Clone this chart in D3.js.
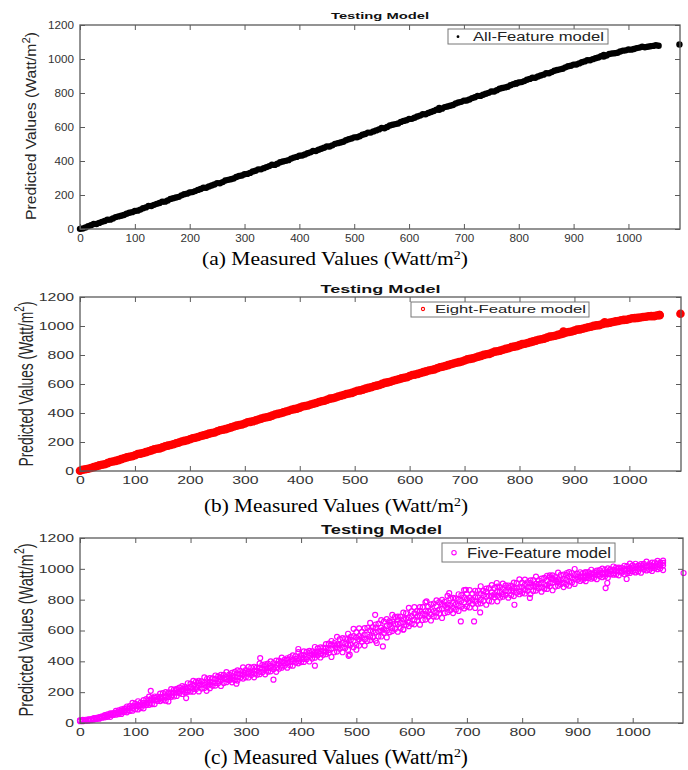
<!DOCTYPE html>
<html><head><meta charset="utf-8">
<script src="https://cdn.jsdelivr.net/npm/d3@7"></script>
<style>body{margin:0;background:#fff}svg{display:block}</style>
</head><body><svg id="chart" width="688" height="770"></svg>
<script>
// ---------------- DATA ----------------
const xTicks = [0,100,200,300,400,500,600,700,800,900,1000];
const yTicks = [0,200,400,600,800,1000,1200];
const titleText = "Testing Model";
const legendNames = ["All-Feature model","Eight-Feature model","Five-Feature model"];
const panelLetters = ["(a)","(b)","(c)"];

const xGrid = [0,10,20,30,40,50,60,70,80,90,100,110,120,130,140,150,160,170,180,190,200,210,220,230,240,250,260,270,280,290,300,310,320,330,340,350,360,370,380,390,400,410,420,430,440,450,460,470,480,490,500,510,520,530,540,550,560,570,580,590,600,610,620,630,640,650,660,670,680,690,700,710,720,730,740,750,760,770,780,790,800,810,820,830,840,850,860,870,880,890,900,910,920,930,940,950,960,970,980,990,1000,1010,1020,1030,1040,1050];
const xGridB = [5,15,25,35,45,55,65,75,85,95,105,115,125,135,145,155,165,175,185,195,205,215,225,235,245,255,265,275,285,295,305,315,325,335,345,355,365,375,385,395,405,415,425,435,445,455,465,475,485,495,505,515,525,535,545,555,565,575,585,595,605,615,625,635,645,655,665,675,685,695,705,715,725,735,745,755,765,775,785,795,805,815,825,835,845,855,865,875,885,895,905,915,925,935,945,955,965,975,985,995,1005,1015,1025,1035,1045,1055];

// (a) All-Feature model
const allFeatureY = [1,9,22,29,42,55,62,74,82,96,
106,114,127,135,148,161,168,181,189,204,
215,223,235,243,256,270,276,289,297,312,
322,330,343,351,364,378,384,397,405,420,
431,438,451,459,472,486,492,505,513,528,
539,546,559,567,580,594,600,613,621,636,
647,654,667,675,688,702,708,721,729,744,
755,762,775,783,796,809,816,829,837,852,
862,870,883,890,903,916,923,935,943,957,
967,974,986,993,1004,1016,1021,1032,1037,1049,
1056,1059,1067,1069,1075,1081];
const allFeatureYB = [3,17,29,36,47,55,70,78,90,99,
108,122,135,142,153,161,177,185,198,208,
217,230,243,250,262,269,285,293,306,315,
324,338,351,358,370,377,393,401,414,424,
432,446,459,466,478,485,501,509,522,532,
540,554,567,574,586,593,609,617,630,640,
648,662,675,682,694,701,717,725,738,748,
756,770,783,790,801,809,825,833,846,855,
864,878,890,897,908,916,931,939,951,960,
968,981,993,999,1009,1015,1029,1034,1044,1051,
1055,1064,1072,1072,1077,1078];
const allFeatureExtraX = [655,795,955,1093];
const allFeatureExtraY = [712,858,1024,1085];

// (b) Eight-Feature model
const eightFeatureY = [2,12,21,33,43,54,66,75,88,98,
109,120,130,142,153,163,175,185,196,208,
219,229,241,251,262,274,284,295,307,317,
328,339,349,361,371,382,394,404,415,427,
437,448,459,469,481,491,502,514,524,535,
546,556,568,578,589,601,611,622,633,643,
655,665,676,687,697,709,719,730,741,751,
762,773,783,794,805,815,826,836,847,858,
868,878,889,899,909,920,929,939,949,959,
968,977,986,995,1004,1012,1020,1028,1035,1042,
1048,1054,1059,1064,1068,1072];
const eightFeatureYB = [9,16,27,39,47,62,70,82,94,102,
117,124,136,149,156,171,179,191,203,212,
226,234,246,258,266,281,289,301,313,321,
336,343,355,367,375,390,398,410,422,430,
445,452,464,476,484,499,507,519,531,539,
553,561,573,585,593,608,616,628,639,647,
662,670,682,693,701,716,724,736,747,755,
770,777,789,801,808,823,830,842,854,861,
875,883,894,905,913,927,933,944,955,962,
975,981,991,1001,1006,1018,1023,1032,1040,1043,
1053,1056,1062,1067,1068,1075];
const eightFeatureExtraX = [880,955,1055,1093];
const eightFeatureExtraY = [962,1025,1076,1085];

// (c) Five-Feature model (cloud read as rows across its width)
const fiveCenterY = [16,16,22,31,38,47,59,70,81,95,
110,115,132,149,154,166,187,196,204,223,
234,236,250,263,264,273,290,295,300,317,
326,327,340,353,355,365,383,390,396,415,
426,429,445,461,465,474,501,507,513,540,
554,553,574,595,595,609,637,643,649,676,
691,690,709,728,725,736,761,765,769,793,
803,799,815,831,825,835,853,856,858,875,
882,879,891,903,900,907,924,926,927,943,
947,947,956,965,965,971,983,985,987,998,
1003,1002,1010,1018,1017,1022];
const fiveUpperY = [18,21,25,33,43,56,65,82,93,109,
126,133,155,162,172,194,198,216,229,234,
255,268,270,287,289,302,312,314,331,339,
343,360,361,377,385,389,405,410,428,433,
441,462,465,484,489,515,519,544,548,559,
589,592,618,621,645,658,661,688,690,712,
725,728,752,754,775,784,786,808,809,829,
838,839,858,857,875,876,882,893,891,908,
910,913,927,925,941,945,946,961,960,973,
967,972,979,978,991,994,996,1008,1007,1017,
1022,1021,1032,1031,1041,1040];
const fiveLowerY = [12,13,18,26,34,40,52,58,72,78,
90,97,117,122,143,148,168,172,193,199,
204,220,223,240,242,258,259,276,278,294,
296,312,313,330,333,349,352,371,373,392,
395,414,418,438,442,455,459,481,486,507,
506,528,532,555,561,584,589,610,614,637,
643,664,668,689,691,710,713,732,735,754,
755,773,774,791,792,815,814,830,829,845,
843,858,857,873,871,887,885,900,898,912,
929,928,941,940,953,952,965,963,975,973,
985,983,995,993,1004,1003];
const fiveMidAY = [17,19,27,32,47,52,66,69,95,97,
117,114,148,148,169,165,199,199,218,213,
248,241,261,249,285,277,297,285,321,313,
333,321,357,350,370,359,397,391,412,402,
440,435,457,448,488,482,510,491,546,533,
564,543,601,588,619,599,657,643,673,653,
711,696,725,703,758,742,770,747,801,784,
811,787,840,821,846,825,869,854,875,854,
897,882,903,882,925,910,931,910,952,935,
952,941,969,961,976,965,993,984,998,985,
1013,1004,1018,1005,1033,1023];
const fiveMidBY = [15,21,25,35,41,58,62,78,81,110,
108,129,129,163,159,180,180,213,209,228,
222,260,248,268,260,296,284,304,296,332,
320,340,332,369,358,378,372,410,400,421,
415,454,445,467,462,508,491,520,507,564,
543,574,561,619,599,630,616,673,652,683,
670,727,705,733,717,772,749,777,761,815,
791,817,799,852,826,850,835,879,858,880,
864,907,886,907,892,935,914,935,918,960,
942,957,949,977,966,981,972,1000,987,1001,
992,1020,1007,1021,1012,1039];
const fiveTopY = [20,23,32,39,52,63,79,88,107,130,
141,148,171,172,191,200,220,221,239,258,
273,274,296,291,308,313,330,325,342,361,
364,365,386,381,400,405,424,420,439,460,
465,468,493,490,511,532,559,551,579,611,
614,615,649,639,667,674,701,690,716,747,
751,751,783,770,795,799,824,811,835,862,
862,858,887,872,894,885,904,892,910,931,
930,925,949,937,955,957,975,962,979,999,
978,977,994,988,1001,1003,1015,1008,1020,1034,
1033,1031,1047,1040,1052,1053];
const fiveBottomY = [12,15,22,28,37,40,54,59,69,80,
88,95,118,123,142,145,170,175,188,202,
203,205,227,226,243,240,265,264,275,288,
295,296,317,316,335,332,359,359,372,387,
396,399,424,425,446,428,463,459,474,492,
502,502,537,534,561,555,596,592,608,628,
640,638,671,665,690,681,719,713,727,743,
750,746,776,767,788,789,819,813,823,835,
840,836,859,852,870,861,890,882,891,902,
921,920,936,933,946,942,962,958,965,973,
977,975,990,986,998,992];
const fiveOutX = [128,160,192,229,283,350,326,395,425,486,488,500,537,548,534,561,585,627,668,689,698,713,724,754,786,814,850,881,914,951,954,989,1049,1092];
const fiveOutY = [209,140,162,209,255,281,421,480,372,436,443,475,519,497,702,652,605,789,843,659,864,659,717,908,767,811,957,973,977,875,908,934,1027,973];

// ---------------- BUILD POINT SETS ----------------
const zip = (xs, ys) => xs.map((x, i) => ({x, y: ys[i]}));
const seriesA = zip(xGrid, allFeatureY).concat(zip(xGridB, allFeatureYB), zip(allFeatureExtraX, allFeatureExtraY));
const seriesB = zip(xGrid, eightFeatureY).concat(zip(xGridB, eightFeatureYB), zip(eightFeatureExtraX, eightFeatureExtraY));
const seriesC = zip(xGrid, fiveCenterY).concat(
  zip(xGrid, fiveUpperY), zip(xGrid, fiveLowerY),
  zip(xGridB, fiveMidAY), zip(xGridB, fiveMidBY),
  zip(xGridB, fiveTopY), zip(xGridB, fiveBottomY),
  zip(fiveOutX, fiveOutY));

// ---------------- LAYOUT ----------------
const SANS = "'Liberation Sans', Arial, Helvetica, sans-serif";
const SERIF = "'Liberation Serif', 'Times New Roman', serif";
const panels = [
  {pts: seriesA, kind: "dot", color: "#000", r: 3.2,
   x0: 80, x1: 680, y0: 25, y1: 229, xMax: 1094, digitW: 6.5, tickFs: 10.5,
   title: {y: 19, fs: 9.5, len: 98},
   ylab: {x: 36, y: 126, fs: 15.5, len: 188},
   xlab: {x: 335, y: 265, fs: 19.5, len: 266},
   leg: {x0: 448, x1: 608, y0: 29, y1: 44, mx: 458, my: 36.7, tx: 473, ty: 41, fs: 12.5, len: 131, mr: 1.4}},
  {pts: seriesB, kind: "fill", color: "#ff0000", r: 4.3,
   x0: 80, x1: 681, y0: 297, y1: 471, xMax: 1094, digitW: 8.8, tickFs: 10.5,
   title: {y: 292.5, fs: 11.5, len: 120},
   ylab: {x: 32.5, y: 384, fs: 20, len: 165},
   xlab: {x: 336, y: 512, fs: 19.5, len: 264},
   leg: {x0: 411, x1: 589, y0: 302, y1: 317, mx: 423, my: 309, tx: 435, ty: 313.3, fs: 11.7, len: 151, mr: 1.6}},
  {pts: seriesC, kind: "ring", color: "#ff00ff", r: 2.5,
   x0: 80, x1: 683, y0: 538, y1: 723, xMax: 1091, digitW: 8.8, tickFs: 10.5,
   title: {y: 533.5, fs: 12.5, len: 121},
   ylab: {x: 32.5, y: 630, fs: 20, len: 173},
   xlab: {x: 336, y: 764, fs: 20, len: 264},
   leg: {x0: 442, x1: 615, y0: 543, y1: 562, mx: 454, my: 552.7, tx: 467, ty: 558.3, fs: 14, len: 144, mr: 2.2}}
];

const svg = d3.select("#chart");
svg.append("rect").attr("width", 688).attr("height", 770).attr("fill", "#fff");
const fmt = d3.format("d");

panels.forEach((p, i) => {
  const g = svg.append("g");
  const x = d3.scaleLinear().domain([0, p.xMax]).range([p.x0, p.x1]);
  const y = d3.scaleLinear().domain([0, 1200]).range([p.y1, p.y0]);

  // points
  const marks = g.append("g").selectAll("circle").data(p.pts).join("circle")
    .attr("cx", d => x(d.x)).attr("cy", d => y(d.y)).attr("r", p.r);
  if (p.kind === "ring") marks.attr("fill", "none").attr("stroke", p.color).attr("stroke-width", 1.2);
  else marks.attr("fill", p.color);

  // axes (inward ticks on all four sides)
  const axisColor = "#5a5a5a";
  const styleTicks = sel => sel.selectAll("text")
      .attr("fill", "#333").attr("font-family", SANS).attr("font-size", p.tickFs)
      .attr("textLength", d => fmt(d).length * p.digitW).attr("lengthAdjust", "spacingAndGlyphs");
  const bottom = g.append("g").attr("transform", `translate(0,${p.y1})`).attr("color", axisColor)
    .call(d3.axisBottom(x).tickValues(xTicks).tickFormat(fmt).tickSize(-5).tickSizeOuter(0).tickPadding(6));
  bottom.select(".domain").remove(); styleTicks(bottom);
  const top = g.append("g").attr("transform", `translate(0,${p.y0})`).attr("color", axisColor)
    .call(d3.axisTop(x).tickValues(xTicks).tickSize(-5).tickSizeOuter(0).tickFormat(""));
  top.select(".domain").remove();
  const left = g.append("g").attr("transform", `translate(${p.x0},0)`).attr("color", axisColor)
    .call(d3.axisLeft(y).tickValues(yTicks).tickFormat(fmt).tickSize(-5).tickSizeOuter(0).tickPadding(6));
  left.select(".domain").remove(); styleTicks(left);
  const right = g.append("g").attr("transform", `translate(${p.x1},0)`).attr("color", axisColor)
    .call(d3.axisRight(y).tickValues(yTicks).tickSize(-5).tickSizeOuter(0).tickFormat(""));
  right.select(".domain").remove();
  g.selectAll(".tick line").attr("stroke-width", 1);

  g.append("rect").attr("x", p.x0).attr("y", p.y0).attr("width", p.x1 - p.x0).attr("height", p.y1 - p.y0)
    .attr("fill", "none").attr("stroke", axisColor).attr("stroke-width", 1.3);

  // title
  g.append("text").attr("x", (p.x0 + p.x1) / 2).attr("y", p.title.y).attr("text-anchor", "middle")
    .attr("font-family", SANS).attr("font-weight", "bold").attr("font-size", p.title.fs)
    .attr("textLength", p.title.len).attr("lengthAdjust", "spacingAndGlyphs").attr("fill", "#111")
    .text(titleText);

  // y label
  const yl = g.append("text").attr("transform", `translate(${p.ylab.x},${p.ylab.y}) rotate(-90)`)
    .attr("text-anchor", "middle").attr("font-family", SANS).attr("font-size", p.ylab.fs)
    .attr("fill", "#262626").attr("textLength", p.ylab.len).attr("lengthAdjust", "spacingAndGlyphs");
  yl.append("tspan").text("Predicted Values (Watt/m");
  yl.append("tspan").attr("font-size", p.ylab.fs * 0.72).attr("dy", -p.ylab.fs * 0.42).text("2");
  yl.append("tspan").attr("dy", p.ylab.fs * 0.42).text(")");

  // x label
  const xl = g.append("text").attr("x", p.xlab.x).attr("y", p.xlab.y).attr("text-anchor", "middle")
    .attr("font-family", SERIF).attr("font-size", p.xlab.fs).attr("fill", "#000")
    .attr("textLength", p.xlab.len).attr("lengthAdjust", "spacingAndGlyphs");
  xl.append("tspan").text(panelLetters[i] + " Measured Values (Watt/m");
  xl.append("tspan").attr("font-size", p.xlab.fs * 0.65).attr("dy", -p.xlab.fs * 0.33).text("2");
  xl.append("tspan").attr("dy", p.xlab.fs * 0.33).text(")");

  // legend
  const L = p.leg;
  g.append("rect").attr("x", L.x0).attr("y", L.y0).attr("width", L.x1 - L.x0).attr("height", L.y1 - L.y0)
    .attr("fill", "#fff").attr("stroke", "#777").attr("stroke-width", 1);
  const lm = g.append("circle").attr("cx", L.mx).attr("cy", L.my).attr("r", L.mr);
  if (p.kind === "dot") lm.attr("fill", p.color);
  else lm.attr("fill", "none").attr("stroke", p.color).attr("stroke-width", 1.1);
  g.append("text").attr("x", L.tx).attr("y", L.ty).attr("font-family", SANS).attr("font-size", L.fs)
    .attr("fill", "#222").attr("textLength", L.len).attr("lengthAdjust", "spacingAndGlyphs")
    .text(legendNames[i]);
});
</script>
</body></html>
